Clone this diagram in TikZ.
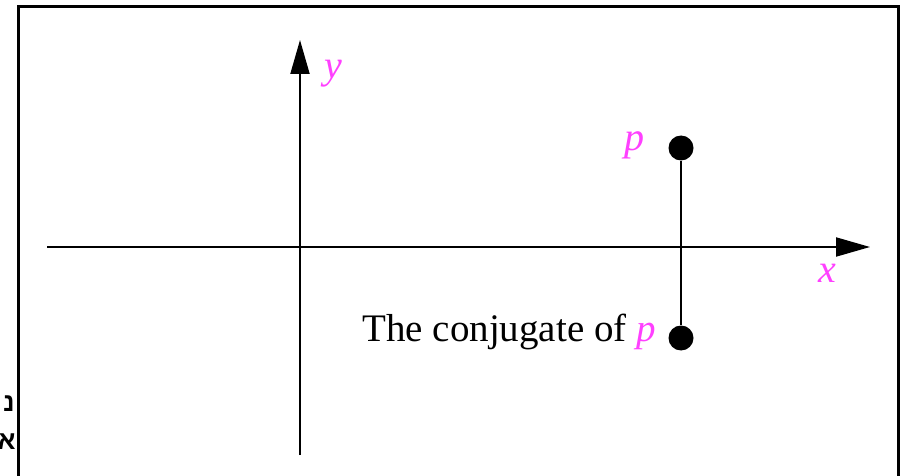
\documentclass[tikz,border=0pt]{standalone}
\usepackage{fontspec}
\setmainfont{Liberation Serif}
\newfontfamily\hebfont[Script=Hebrew]{Liberation Sans}
\TeXXeTstate=1
\usetikzlibrary{arrows.meta}
\definecolor{labelpink}{RGB}{255,64,255}

\begin{document}
\begin{tikzpicture}[
  x=0.5pt, y=-0.5pt,
  every node/.style={font=\fontsize{19.5}{22}\selectfont, inner sep=0pt},
  axis/.style={line width=1pt, -{Triangle[length=17pt, width=9.5pt]}},
  lbl/.style={text=labelpink, font=\fontsize{20}{22}\selectfont\itshape},
  pointdot/.style={circle, fill=black, minimum size=12.5pt},
  heb/.style={font=\fontsize{13}{15}\hebfont\bfseries, anchor=base east},
]
  \clip (0,0) rectangle (906,476);
  % frame
  \draw[line width=1.5pt] (18,490) -- (18,7) -- (898,7) -- (898,490);
  % axes
  \coordinate (xs) at (47,247);
  \coordinate (xe) at (870,247);
  \coordinate (ys) at (300,455);
  \coordinate (ye) at (300,40);
  \draw[axis] (xs) -- (xe);
  \draw[axis] (ys) -- (ye);
  \node[lbl, anchor=base west] (ylab) at (324,79) {y};
  \node[lbl, anchor=base west] (xlab) at (818,283) {x};
  % p and its conjugate
  \node[pointdot] (p)  at (681,148) {};
  \node[pointdot] (pc) at (681,338) {};
  \draw[line width=1pt] (p) -- (pc);
  \node[lbl, anchor=base west] (plab) at (624,151) {p};
  \node[anchor=base west] (pclab) at (362,341)
    {The conjugate of \textcolor{labelpink}{\textit{p}}};
  % cut-off text at the left
  \node[heb] (heb1) at (15,411) {\beginR נ\endR};
  \node[heb] (heb2) at (16,449) {\beginR א\endR};
\end{tikzpicture}
\end{document}
